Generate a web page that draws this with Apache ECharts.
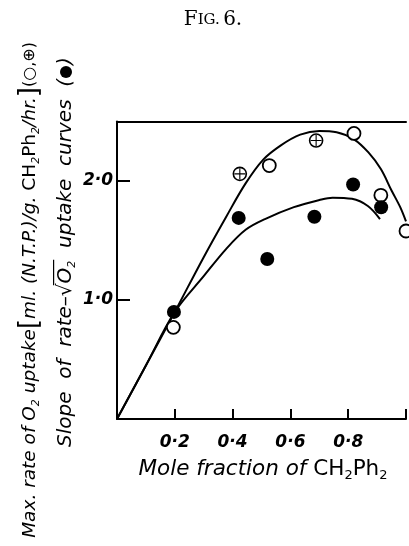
<!DOCTYPE html>
<html><head><meta charset="utf-8">
<script src="https://cdn.jsdelivr.net/npm/echarts@6/dist/echarts.min.js"></script>
<style>html,body{margin:0;padding:0;background:#fff}#c{width:409px;height:546px}</style>
</head><body><div id="c"></div>
<script>
// ---- data ----
const xTicks = [0.2, 0.4, 0.6, 0.8];
const yTicks = [1.0, 2.0];
const openX = [0.195, 0.527, 0.82, 0.913, 1.0];
const openY = [0.77, 2.13, 2.40, 1.88, 1.58];
const plusX = [0.425, 0.689];
const plusY = [2.06, 2.34];
const filledX = [0.197, 0.421, 0.52, 0.683, 0.817, 0.914];
const filledY = [0.90, 1.69, 1.345, 1.70, 1.97, 1.78];
const upperX = [0, 0.1, 0.2, 0.30, 0.378, 0.445, 0.506, 0.567, 0.634, 0.70, 0.76, 0.82, 0.87, 0.913, 0.95, 0.98, 1.0];
const upperY = [0, 0.45, 0.9, 1.36, 1.70, 1.98, 2.18, 2.30, 2.39, 2.42, 2.41, 2.35, 2.24, 2.10, 1.92, 1.78, 1.66];
const lowerX = [0, 0.1, 0.2, 0.30, 0.378, 0.445, 0.512, 0.612, 0.70, 0.746, 0.813, 0.868, 0.91];
const lowerY = [0, 0.45, 0.9, 1.20, 1.43, 1.59, 1.68, 1.78, 1.84, 1.86, 1.85, 1.79, 1.68];

const zip = (a, b) => a.map((v, i) => [v, b[i]]);
const fmt = v => v.toFixed(1).replace('.', '\u00b7');
const FONT = 'DejaVu Sans';
const chart = echarts.init(document.getElementById('c'), null, {renderer: 'canvas'});
const crossPath = 'path://M-1,-10 L1,-10 L1,-1 L10,-1 L10,1 L1,1 L1,10 L-1,10 L-1,1 L-10,1 L-10,-1 L-1,-1 Z';
const sub = {fontSize: 11, fontFamily: FONT, fontStyle: 'italic', padding: [12, 0, 0, 0], fill: '#000'};
const subUp = {fontSize: 13, fontFamily: FONT, padding: [13, 0, 0, 0], fill: '#000'};

// measure pieces of the second y-title line to place the radical's overline and the marker
const F2 = 20;
const mc = document.createElement('canvas').getContext('2d');
mc.font = 'italic ' + F2 + 'px "DejaVu Sans"';
const wPre = mc.measureText('Slope  of  rate\u2013').width;
const wRad = mc.measureText('\u221a').width;
const wO = mc.measureText('O').width;
const wMid = mc.measureText('  uptake  curves  (').width;
mc.font = 'italic 11px "DejaVu Sans"';
const wSub = mc.measureText('2').width;
const wAll = wPre + wRad + wO + wSub + wMid;

chart.setOption({
  animation: false,
  grid: {left: 117, top: 121.5, bottom: 127, right: -7},
  xAxis: [{
    type: 'value', min: 0, max: 1.0, interval: 0.2,
    axisLine: {lineStyle: {color: '#000', width: 2}},
    axisTick: {inside: true, length: 10, lineStyle: {color: '#000', width: 2}},
    splitLine: {show: false},
    axisLabel: {
      margin: 15, color: '#000', fontSize: 17, fontFamily: FONT, fontStyle: 'italic', fontWeight: 'bold',
      formatter: v => xTicks.some(t => Math.abs(t - v) < 1e-6) ? fmt(v) : ''
    }
  }, {
    type: 'value', min: 0, max: 1.0, position: 'top',
    axisLine: {show: true, lineStyle: {color: '#000', width: 2}},
    axisTick: {show: false}, axisLabel: {show: false}, splitLine: {show: false}
  }],
  yAxis: {
    type: 'value', min: 0, max: 2.5, interval: 1,
    axisLine: {lineStyle: {color: '#000', width: 2}},
    axisTick: {inside: true, length: 13, lineStyle: {color: '#000', width: 2}},
    splitLine: {show: false},
    axisLabel: {
      margin: 4, color: '#000', fontSize: 17, fontFamily: FONT, fontStyle: 'italic', fontWeight: 'bold',
      formatter: v => yTicks.some(t => Math.abs(t - v) < 1e-6) ? fmt(v) : ''
    }
  },
  series: [
    {type: 'line', data: zip(upperX, upperY), smooth: 0.35, symbol: 'none', lineStyle: {color: '#000', width: 2}, z: 2},
    {type: 'line', data: zip(lowerX, lowerY), smooth: 0.35, symbol: 'none', lineStyle: {color: '#000', width: 2}, z: 2},
    {type: 'scatter', data: zip(openX, openY), symbol: 'circle', symbolSize: 13,
      itemStyle: {color: '#fff', borderColor: '#000', borderWidth: 1.8, opacity: 1}, z: 4},
    {type: 'scatter', data: zip(filledX, filledY), symbol: 'circle', symbolSize: 14,
      itemStyle: {color: '#000', opacity: 1}, z: 5},
    {type: 'scatter', data: zip(plusX, plusY), symbol: 'circle', symbolSize: 13,
      itemStyle: {color: '#fff', borderColor: '#000', borderWidth: 1.6, opacity: 1}, z: 4},
    {type: 'scatter', data: zip(plusX, plusY), symbol: crossPath, symbolSize: 11,
      itemStyle: {color: '#000', opacity: 1}, z: 6}
  ],
  graphic: [
    {type: 'text', x: 213, y: 20, style: {
      rich: {a: {fontSize: 20, fontFamily: 'DejaVu Serif', fill: '#000'}, b: {fontSize: 15, fontFamily: 'DejaVu Serif', fill: '#000'}},
      text: '{a|F}{b|IG.} {a|6.}', align: 'center', verticalAlign: 'middle'}},
    {type: 'text', x: 263, y: 469, style: {
      text: 'Mole fraction of {u|CH}{s|2}{u|Ph}{s|2}', fill: '#000', fontSize: 21.5, fontFamily: FONT, fontStyle: 'italic',
      align: 'center', verticalAlign: 'middle',
      rich: {s: subUp, u: {fontSize: 21.5, fontFamily: FONT, fill: '#000'}}}},
    {type: 'text', x: 30, y: 290, rotation: Math.PI / 2, style: {
      text: 'Max. rate of O{s|2} uptake{br|[}ml. (N.T.P.)/g. {u|CH}{s|2}{u|Ph}{s|2}/hr.{br|]}{g|(\u25cb,\u2295)}',
      fill: '#000', fontSize: 18.5, fontFamily: FONT, fontStyle: 'italic', align: 'center', verticalAlign: 'middle',
      rich: {s: sub, br: {fontSize: 26, fontFamily: FONT, fill: '#000'},
        u: {fontSize: 18.5, fontFamily: FONT, fill: '#000'},
        g: {fontSize: 16, fontFamily: FONT, fill: '#000'}}}},
    {type: 'group', x: 66, y: 447, rotation: Math.PI / 2, children: [
      {type: 'text', x: 0, y: 0, style: {
        text: 'Slope  of  rate\u2013\u221aO{s|2}  uptake  curves  (',
        fill: '#000', fontSize: F2, fontFamily: FONT, fontStyle: 'italic', align: 'left', verticalAlign: 'middle',
        rich: {s: sub}}},
      {type: 'line', shape: {x1: wPre + wRad * 0.85, y1: -F2 * 0.62, x2: wPre + wRad + wO + wSub + 1, y2: -F2 * 0.62},
        style: {stroke: '#000', lineWidth: 1.2}},
      {type: 'circle', shape: {cx: wAll + 7, cy: 0, r: 6}, style: {fill: '#000'}},
      {type: 'text', x: wAll + 14, y: 0, style: {
        text: ')', fill: '#000', fontSize: F2, fontFamily: FONT, fontStyle: 'italic', align: 'left', verticalAlign: 'middle'}}
    ]}
  ]
});
</script></body></html>
